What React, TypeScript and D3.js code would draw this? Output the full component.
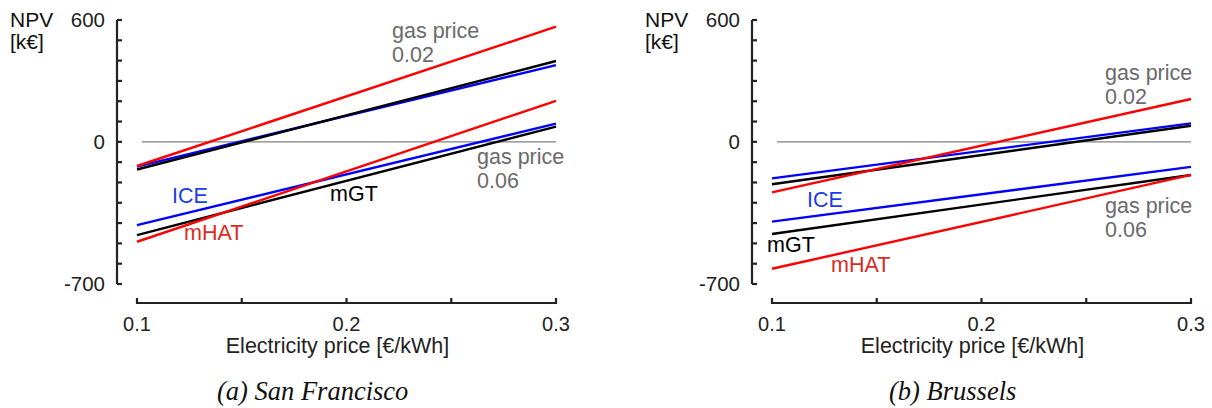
import React from "react";
import * as d3 from "d3";

// Electricity price [€/kWh] at which NPV was read
const electricity = [0.1, 0.3];

// San Francisco NPV [k€]
const sfIceGas002 = [-122, 378];
const sfMgtGas002 = [-136, 398];
const sfMhatGas002 = [-119, 567];
const sfIceGas006 = [-410, 90];
const sfMgtGas006 = [-459, 75];
const sfMhatGas006 = [-492, 202];

// Brussels NPV [k€]
const brIceGas002 = [-180, 91];
const brMgtGas002 = [-209, 79];
const brMhatGas002 = [-249, 211];
const brIceGas006 = [-393, -123];
const brMgtGas006 = [-454, -163];
const brMhatGas006 = [-625, -163];

const xTicks = [0.1, 0.15, 0.2, 0.25, 0.3];
const xTickLabels = ["0.1", "", "0.2", "", "0.3"];
const yTicks = d3.range(-700, 601, 100);
const yTickLabels = [600, 0, -700];

const RED = "#ff0000";
const BLUE = "#0000ff";
const BLACK = "#000000";
const FONT = "'Liberation Sans', Arial, Helvetica, sans-serif";
const AXIS = "#222";
const GRAY = "#6a6a6a";

type Series = { values: number[]; color: string };
type Label = { text: string[]; x: number; y: number; color: string };

type PanelProps = {
  axisX: number;
  x0: number;
  x1: number;
  series: Series[];
  labels: Label[];
  caption: string;
  captionX: number;
};

const yScale = d3.scaleLinear().domain([-700, 600]).range([284, 20]);

function Panel({ axisX, x0, x1, series, labels, caption, captionX }: PanelProps) {
  const x = d3.scaleLinear().domain([0.1, 0.3]).range([x0, x1]);
  const axisY = 303;
  const line = d3
    .line<[number, number]>()
    .x((d) => x(d[0]))
    .y((d) => yScale(d[1]));
  return (
    <g>
      {/* zero line */}
      <line x1={x0 + 5} x2={x1} y1={yScale(0)} y2={yScale(0)} stroke="#808080" strokeWidth={1.2} />
      {/* series */}
      {series.map((s, i) => (
        <path
          key={i}
          d={line(electricity.map((e, j) => [e, s.values[j]] as [number, number])) || ""}
          fill="none"
          stroke={s.color}
          strokeWidth={2.4}
        />
      ))}
      {/* y axis */}
      <line x1={axisX} x2={axisX} y1={yScale(600)} y2={yScale(-700)} stroke={AXIS} strokeWidth={2.2} />
      {yTicks.map((t) => (
        <line key={t} x1={axisX} x2={axisX + 5} y1={yScale(t)} y2={yScale(t)} stroke={AXIS} strokeWidth={2.2} />
      ))}
      {yTickLabels.map((t) => (
        <text
          key={t}
          x={axisX - 12}
          y={yScale(t) + 7}
          textAnchor="end"
          fontFamily={FONT}
          fontSize={20.5}
          fill="#222"
        >
          {t}
        </text>
      ))}
      {/* x axis */}
      <line x1={x0} x2={x1} y1={axisY} y2={axisY} stroke={AXIS} strokeWidth={2.2} />
      {xTicks.map((t, i) => (
        <g key={t}>
          <line x1={x(t)} x2={x(t)} y1={axisY + 1} y2={axisY - 5} stroke={AXIS} strokeWidth={2.2} />
          {xTickLabels[i] && (
            <text x={x(t)} y={331} textAnchor="middle" fontFamily={FONT} fontSize={20} fill="#222">
              {xTickLabels[i]}
            </text>
          )}
        </g>
      ))}
      <text x={(x0 + x1) / 2 - 9} y={353} textAnchor="middle" fontFamily={FONT} fontSize={21.5} fill="#222">
        Electricity price [€/kWh]
      </text>
      {/* y title */}
      <text x={axisX - 107} y={27} fontFamily={FONT} fontSize={21} fill="#111">
        NPV
      </text>
      <text x={axisX - 107} y={49} fontFamily={FONT} fontSize={21} fill="#111">
        [k€]
      </text>
      {/* annotations */}
      {labels.map((l, i) => (
        <text key={i} x={l.x} y={l.y} fontFamily={FONT} fontSize={21.5} fill={l.color}>
          {l.text.map((t, k) => (
            <tspan key={k} x={l.x} dy={k === 0 ? 0 : 23.5}>
              {t}
            </tspan>
          ))}
        </text>
      ))}
      {/* caption */}
      <text
        x={captionX}
        y={400}
        fontFamily="'Liberation Serif', 'Times New Roman', serif"
        fontStyle="italic"
        fontSize={26.5}
        fill="#111"
      >
        {caption}
      </text>
    </g>
  );
}

export default function App() {
  const sfSeries: Series[] = [
    { values: sfIceGas002, color: BLUE },
    { values: sfMgtGas002, color: BLACK },
    { values: sfMhatGas002, color: RED },
    { values: sfIceGas006, color: BLUE },
    { values: sfMgtGas006, color: BLACK },
    { values: sfMhatGas006, color: RED },
  ];
  const brSeries: Series[] = [
    { values: brIceGas002, color: BLUE },
    { values: brMgtGas002, color: BLACK },
    { values: brMhatGas002, color: RED },
    { values: brIceGas006, color: BLUE },
    { values: brMgtGas006, color: BLACK },
    { values: brMhatGas006, color: RED },
  ];
  const sfLabels: Label[] = [
    { text: ["gas price", "0.02"], x: 392, y: 38, color: GRAY },
    { text: ["gas price", "0.06"], x: 477, y: 164, color: GRAY },
    { text: ["ICE"], x: 172, y: 203, color: "#1c3ce8" },
    { text: ["mGT"], x: 330, y: 201, color: "#000" },
    { text: ["mHAT"], x: 184, y: 240, color: "#d92b1e" },
  ];
  const brLabels: Label[] = [
    { text: ["gas price", "0.02"], x: 1105, y: 80, color: GRAY },
    { text: ["gas price", "0.06"], x: 1105, y: 213, color: GRAY },
    { text: ["ICE"], x: 807, y: 207, color: "#1c3ce8" },
    { text: ["mGT"], x: 767, y: 252, color: "#000" },
    { text: ["mHAT"], x: 831, y: 272, color: "#d92b1e" },
  ];
  return (
    <svg
      width={1212}
      height={408}
      style={{ position: "absolute", left: 0, top: 0, background: "#fff" }}
    >
      <rect width={1212} height={408} fill="#fff" />
      <Panel
        axisX={117}
        x0={137}
        x1={556}
        series={sfSeries}
        labels={sfLabels}
        caption="(a) San Francisco"
        captionX={217}
      />
      <Panel
        axisX={752}
        x0={772}
        x1={1191}
        series={brSeries}
        labels={brLabels}
        caption="(b) Brussels"
        captionX={889}
      />
    </svg>
  );
}
